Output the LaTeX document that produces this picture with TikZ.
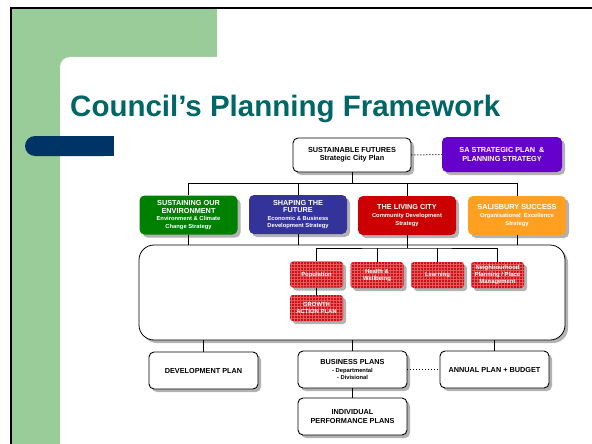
\documentclass[tikz,border=0pt]{standalone}
\usepackage{fontspec}
\setmainfont{Liberation Sans}
\usetikzlibrary{shadows,patterns}
\definecolor{bggreen}{RGB}{153,204,153}
\definecolor{navy}{RGB}{0,51,102}
\definecolor{titleteal}{RGB}{0,102,102}
\definecolor{sapurple}{RGB}{102,0,204}
\definecolor{envgreen}{RGB}{0,128,0}
\definecolor{shapeblue}{RGB}{51,51,153}
\definecolor{livred}{RGB}{204,0,0}
\definecolor{salorange}{RGB}{255,160,32}
\definecolor{smallred}{RGB}{204,16,24}
\definecolor{gridred}{RGB}{228,90,90}
\newcommand\hdf{\fontsize{7.3}{8.8}\selectfont}
\newcommand\smf{\fontsize{5.8}{7.6}\selectfont}
\newcommand\tnf{\fontsize{5.9}{7}\selectfont}
\tikzset{
  shad/.style={drop shadow={shadow xshift=3pt,shadow yshift=-3pt,fill=black!30,opacity=1}},
  whitebox/.style={shad,draw=black,line width=0.9pt,fill=white,rounded corners=5pt,
    minimum width=109pt,minimum height=37pt,align=center,font=\bfseries\hdf,inner sep=1pt},
  colbox/.style={shad,fill=#1,rounded corners=5pt,text=white,
    minimum width=98pt,minimum height=39pt,align=center,font=\bfseries\smf,inner sep=1pt},
  redbox/.style={shad,preaction={fill=smallred},pattern=grid,pattern color=gridred,
    rounded corners=3pt,text=white,minimum width=53pt,minimum height=26pt,
    align=center,font=\bfseries\tnf,inner sep=1pt},
  conn/.style={draw=black,line width=1pt},
  dotconn/.style={draw=black,line width=1pt,dotted}
}
\begin{document}
\begin{tikzpicture}[x=1pt,y=-1pt]
\useasboundingbox (0,0) rectangle (592,444);
\fill[white] (0,0) rectangle (592,444);
% background decoration
\fill[bggreen] (11,8) rectangle (217,70);
\fill[bggreen] (11,8) rectangle (60,444);
\fill[white,rounded corners=10pt] (60,57) rectangle (610,460);
\fill[navy,rounded corners=10pt] (25,136) rectangle (114,156);
\fill[navy] (60,136) rectangle (114,156);
\draw[black,line width=1.8pt] (10.5,8) -- (592,8);
\draw[black,line width=1.8pt] (11,7.1) -- (11,444);
% title
\node[anchor=base west,inner sep=0pt,text=titleteal,font=\bfseries\fontsize{29.5}{32}\selectfont] (title) at (70,117) {Council’s Planning Framework};
% top boxes
\node[whitebox,minimum width=118pt,minimum height=34pt] (sf) at (352,155) {SUSTAINABLE FUTURES\\[-1pt]Strategic City Plan};
\node[colbox=sapurple,minimum width=120pt,minimum height=35pt,font=\bfseries\hdf] (sa) at (502,154.5) {SA STRATEGIC PLAN \ \&\\PLANNING STRATEGY};
% strategies
\node[colbox=envgreen] (env) at (188.5,215) {{\hdf SUSTAINING OUR}\\{\hdf ENVIRONMENT}\\Environment \& Climate\\Change Strategy};
\node[colbox=shapeblue] (shape) at (298,214.5) {{\hdf SHAPING THE}\\{\hdf FUTURE}\\Economic \& Business\\Development Strategy};
\node[colbox=livred] (living) at (407,215.5) {{\hdf THE LIVING CITY}\\Community Development\\Strategy};
\node[colbox=salorange] (salis) at (517,215.5) {{\hdf SALISBURY SUCCESS}\\Organisational \ Excellence\\Strategy};
% big box
\node[shad,draw=black,line width=0.8pt,fill=white,rounded corners=15pt,minimum width=426pt,minimum height=95pt] (big) at (352,292.5) {};
% small red boxes
\node[redbox] (pop) at (316.5,274.5) {Population};
\node[redbox] (health) at (377,275) {Health \&\\Wellbeing};
\node[redbox] (learn) at (437.5,275) {Learning};
\node[redbox] (neigh) at (497.5,275) {Neighbourhood\\Planning / Place\\Management};
\node[redbox] (growth) at (316.5,308) {GROWTH\\ACTION PLAN};
% bottom boxes
\node[whitebox] (dev) at (203.5,370.5) {DEVELOPMENT PLAN};
\node[whitebox] (bus) at (352.5,369.5) {BUSINESS PLANS\\[-1pt]{\smf - Departmental}\\[-2pt]{\smf - Divisional}};
\node[whitebox] (ind) at (352.5,416.5) {INDIVIDUAL\\PERFORMANCE PLANS};
\node[whitebox] (annual) at (494.5,369.5) {ANNUAL PLAN + BUDGET};
% connectors
\coordinate (busline) at (352,183);
\coordinate (lbus) at (407,248);
\draw[conn] (sf.south) -- (busline);
\draw[conn] (env.north) -- (env.north |- busline) -| (salis.north);
\draw[conn] (shape.north) -- (shape.north |- busline);
\draw[conn] (living.north) -- (living.north |- busline);
\draw[dotconn] (sf.east) -- (sa.west);
\draw[conn] (env.south) -- (env.south |- big.north);
\draw[conn] (shape.south) -- (shape.south |- big.north);
\draw[conn] (salis.south) -- (salis.south |- big.north);
\draw[conn] (living.south) -- (lbus);
\draw[conn] (pop.north) |- (lbus) -| (neigh.north);
\draw[conn] (health.north) -- (health.north |- lbus);
\draw[conn] (learn.north) -- (learn.north |- lbus);
\draw[conn] (pop.south) -- (growth.north);
\draw[conn] (dev.north) -- (dev.north |- big.south);
\draw[conn] (bus.north) -- (bus.north |- big.south);
\draw[conn] (annual.north) -- (annual.north |- big.south);
\draw[conn] (bus.south) -- (ind.north);
\draw[dotconn] (bus.east) -- (annual.west);
\end{tikzpicture}
\end{document}
